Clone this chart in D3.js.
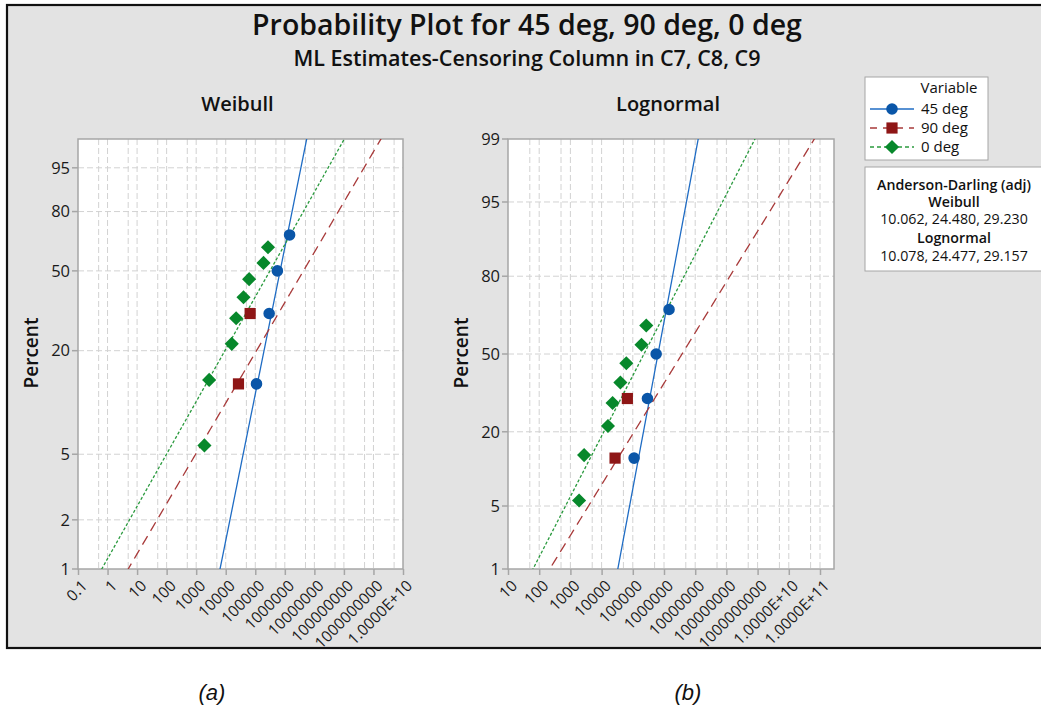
<!DOCTYPE html>
<html>
<head>
<meta charset="utf-8">
<script src="https://cdn.jsdelivr.net/npm/d3@7"></script>
<style>
  body { margin: 0; background: #fff; }
  svg { display: block; font-family: "Open Sans", "Noto Sans", sans-serif; }
</style>
</head>
<body>
<svg id="chart" width="1041" height="712"></svg>
<script>
// ---- data ----
const seriesNames = ['45 deg', '90 deg', '0 deg'];
const seriesColors = ['#0a56a8', '#8e1616', '#07882b'];
const lineColors = ['#1f6cc4', '#a83a3a', '#2a9a3e'];

const times45 = [1.1e5, 2.95e5, 5.6e5, 1.45e6];
const pct45 = [13.0, 31.5, 50.0, 68.5];
const times90 = [2.7e4, 6.7e4];
const pct90 = [13.0, 31.5];
const times0 = [1900, 2750, 1.6e4, 2.25e4, 4.0e4, 6.2e4, 1.9e5, 2.7e5];
const pct0 = [5.65, 13.7, 21.8, 29.8, 37.9, 46.0, 54.0, 62.1];

// fitted distributions (ML estimates)
const weibullShape = [0.904, 0.310, 0.323];
const weibullScale = [1.04e6, 1.39e7, 9.75e5];
const lognormLoc10 = [5.808, 6.578, 5.358];
const lognormScale10 = [0.554, 1.823, 1.529];

const weibullXTicks = [0.1, 1, 10, 100, 1e3, 1e4, 1e5, 1e6, 1e7, 1e8, 1e9, 1e10];
const weibullXLabels = ['0.1', '1', '10', '100', '1000', '10000', '100000', '1000000',
  '10000000', '100000000', '1000000000', '1.0000E+10'];
const weibullYTicks = [1, 2, 5, 20, 50, 80, 95];

const lognormXTicks = [10, 100, 1e3, 1e4, 1e5, 1e6, 1e7, 1e8, 1e9, 1e10, 1e11];
const lognormXLabels = ['10', '100', '1000', '10000', '100000', '1000000', '10000000',
  '100000000', '1000000000', '1.0000E+10', '1.0000E+11'];
const lognormYTicks = [1, 5, 20, 50, 80, 95, 99];

const adWeibull = '10.062, 24.480, 29.230';
const adLognormal = '10.078, 24.477, 29.157';

// ---- helpers ----
function weib(p) { return Math.log(-Math.log(1 - p)); }

// inverse standard normal CDF (Acklam)
function probit(p) {
  const a = [-39.69683028665376, 220.9460984245205, -275.9285104469687, 138.3577518672690, -30.66479806614716, 2.506628277459239];
  const b = [-54.47609879822406, 161.5858368580409, -155.6989798598866, 66.80131188771972, -13.28068155288572];
  const c = [-0.007784894002430293, -0.3223964580411365, -2.400758277161838, -2.549732539343734, 4.374664141464968, 2.938163982698783];
  const d = [0.007784695709041462, 0.3224671290700398, 2.445134137142996, 3.754408661907416];
  const pl = 0.02425;
  let q, r;
  if (p < pl) {
    q = Math.sqrt(-2 * Math.log(p));
    return (((((c[0]*q+c[1])*q+c[2])*q+c[3])*q+c[4])*q+c[5]) / ((((d[0]*q+d[1])*q+d[2])*q+d[3])*q+1);
  } else if (p <= 1 - pl) {
    q = p - 0.5; r = q * q;
    return (((((a[0]*r+a[1])*r+a[2])*r+a[3])*r+a[4])*r+a[5])*q / (((((b[0]*r+b[1])*r+b[2])*r+b[3])*r+b[4])*r+1);
  }
  q = Math.sqrt(-2 * Math.log(1 - p));
  return -(((((c[0]*q+c[1])*q+c[2])*q+c[3])*q+c[4])*q+c[5]) / ((((d[0]*q+d[1])*q+d[2])*q+d[3])*q+1);
}

const svg = d3.select('#chart');
const W = 1041, H = 712;

// outer frame
svg.append('rect').attr('x', 7).attr('y', 5).attr('width', W + 10).attr('height', 643)
  .attr('fill', '#e3e3e3').attr('stroke', '#111').attr('stroke-width', 2.2);

svg.append('text').attr('x', 527).attr('y', 35).attr('text-anchor', 'middle')
  .attr('font-size', 28.5).attr('font-weight', 600).attr('fill', '#111')
  .text('Probability Plot for 45 deg, 90 deg, 0 deg');
svg.append('text').attr('x', 527).attr('y', 66).attr('text-anchor', 'middle')
  .attr('font-size', 21.5).attr('font-weight', 600).attr('fill', '#111')
  .text('ML Estimates-Censoring Column in C7, C8, C9');

const series = [
  {name: seriesNames[0], t: times45, p: pct45, color: seriesColors[0], line: lineColors[0], dash: null, shape: 'circle'},
  {name: seriesNames[1], t: times90, p: pct90, color: seriesColors[1], line: lineColors[1], dash: '10 6', shape: 'square'},
  {name: seriesNames[2], t: times0, p: pct0, color: seriesColors[2], line: lineColors[2], dash: '3 2', shape: 'diamond'}
];

const panels = [
  {
    id: 'w', title: 'Weibull', left: 78, right: 403, top: 139, bottom: 569,
    xDomain: [0.1, 1e10], xRange: [78, 403], xTicks: weibullXTicks, xLabels: weibullXLabels,
    trans: weib, yTop: 0.989, yTicks: weibullYTicks, ylabX: 32,
    fitX: (i, p) => weibullScale[i] * Math.pow(-Math.log(1 - p), 1 / weibullShape[i])
  },
  {
    id: 'l', title: 'Lognormal', left: 508, right: 834, top: 139, bottom: 569,
    xDomain: [10, 1e11], xRange: [508, 820], xTicks: lognormXTicks, xLabels: lognormXLabels,
    trans: probit, yTop: 0.99, yTicks: lognormYTicks, ylabX: 462,
    fitX: (i, p) => Math.pow(10, lognormLoc10[i] + lognormScale10[i] * probit(p))
  }
];

const symbolFor = {
  circle: d3.symbol(d3.symbolCircle, 105),
  square: d3.symbol(d3.symbolSquare, 125),
  diamond: d3.symbol(d3.symbolSquare, 100)
};
const symbolRot = {circle: 0, square: 0, diamond: 45};

panels.forEach(P => {
  const x = d3.scaleLog().domain(P.xDomain).range(P.xRange);
  const y = d3.scaleLinear().domain([P.trans(0.01), P.trans(P.yTop)]).range([P.bottom, P.top]);
  const yp = pc => y(P.trans(pc / 100));
  const g = svg.append('g');

  g.append('rect').attr('x', P.left).attr('y', P.top)
    .attr('width', P.right - P.left).attr('height', P.bottom - P.top).attr('fill', '#fff');

  // vertical grid: decades and the 5x lines before them
  const vlines = [];
  P.xTicks.forEach(t => { vlines.push(t); vlines.push(t * 5); });
  vlines.filter(v => x(v) > P.left + 1 && x(v) < P.right - 1).forEach(v => {
    g.append('line').attr('x1', x(v)).attr('x2', x(v)).attr('y1', P.top).attr('y2', P.bottom)
      .attr('stroke', '#d2d2d2').attr('stroke-width', 1).attr('stroke-dasharray', '6 3');
  });
  P.yTicks.filter(t => yp(t) > P.top + 1 && yp(t) < P.bottom - 1).forEach(t => {
    g.append('line').attr('x1', P.left).attr('x2', P.right).attr('y1', yp(t)).attr('y2', yp(t))
      .attr('stroke', '#d2d2d2').attr('stroke-width', 1).attr('stroke-dasharray', '6 3');
  });

  g.append('rect').attr('x', P.left).attr('y', P.top)
    .attr('width', P.right - P.left).attr('height', P.bottom - P.top)
    .attr('fill', 'none').attr('stroke', '#a6a6a6').attr('stroke-width', 1.5);

  // axes
  const xAxis = d3.axisBottom(x).tickValues(P.xTicks).tickSize(6)
    .tickFormat((d, i) => P.xLabels[i]);
  const xg = g.append('g').attr('transform', `translate(0,${P.bottom})`).call(xAxis);
  xg.select('.domain').remove();
  xg.selectAll('.tick line').attr('stroke', '#a6a6a6').attr('stroke-width', 1.5);
  xg.selectAll('.tick text').attr('font-size', 15.5).attr('fill', '#1a1a1a')
    .attr('font-family', '"Open Sans", sans-serif')
    .attr('text-anchor', 'end').attr('dx', '-0.1em').attr('dy', '0.55em')
    .attr('transform', 'rotate(-45) translate(-4,2)');

  const yg = g.append('g').attr('transform', `translate(${P.left},0)`);
  P.yTicks.forEach(t => {
    yg.append('line').attr('x1', -6).attr('x2', 0).attr('y1', yp(t)).attr('y2', yp(t))
      .attr('stroke', '#a6a6a6').attr('stroke-width', 1.5);
    yg.append('text').attr('x', -8).attr('y', yp(t)).attr('dy', '0.35em')
      .attr('text-anchor', 'end').attr('font-size', 16.5).attr('fill', '#1a1a1a').text(t);
  });

  g.append('text').attr('x', (P.left + P.right) / 2 - 3).attr('y', 111).attr('text-anchor', 'middle')
    .attr('font-size', 20).attr('font-weight', 600).attr('fill', '#111').text(P.title);
  g.append('text').attr('transform', `translate(${P.ylabX + 6},353) rotate(-90)`)
    .attr('text-anchor', 'middle').attr('font-size', 19).attr('font-weight', 600)
    .attr('fill', '#111').text('Percent');

  // fitted lines
  const clipId = 'clip-' + P.id;
  svg.append('clipPath').attr('id', clipId).append('rect')
    .attr('x', P.left).attr('y', P.top).attr('width', P.right - P.left).attr('height', P.bottom - P.top);
  const probs = d3.range(0.002, 0.9995, 0.002);
  const line = d3.line().x(d => x(d[0])).y(d => y(P.trans(d[1])));
  series.forEach((s, i) => {
    g.append('path').attr('clip-path', `url(#${clipId})`)
      .attr('d', line(probs.map(p => [P.fitX(i, p), p])))
      .attr('fill', 'none').attr('stroke', s.line).attr('stroke-width', 1.3)
      .attr('stroke-dasharray', s.dash);
  });

  // points
  series.forEach(s => {
    g.selectAll(null).data(s.t.map((t, k) => [t, s.p[k]])).enter().append('path')
      .attr('d', symbolFor[s.shape])
      .attr('transform', d => `translate(${x(d[0])},${yp(d[1])}) rotate(${symbolRot[s.shape]})`)
      .attr('fill', s.color);
  });
});

// legend
const lg = svg.append('g');
lg.append('rect').attr('x', 865).attr('y', 77).attr('width', 123).attr('height', 83)
  .attr('fill', '#fff').attr('stroke', '#a6a6a6').attr('stroke-width', 1);
lg.append('text').attr('x', 949).attr('y', 88).attr('dy', '0.35em').attr('text-anchor', 'middle')
  .attr('font-size', 15).attr('font-weight', 500).attr('fill', '#111').text('Variable');
series.forEach((s, i) => {
  const yy = [109, 128, 147][i];
  lg.append('line').attr('x1', 870).attr('x2', 914).attr('y1', yy).attr('y2', yy)
    .attr('stroke', s.line).attr('stroke-width', 1.3).attr('stroke-dasharray', s.dash ? (i === 1 ? '7 6' : '4 3') : null);
  lg.append('path').attr('d', symbolFor[s.shape])
    .attr('transform', `translate(892,${yy}) rotate(${symbolRot[s.shape]})`).attr('fill', s.color);
  lg.append('text').attr('x', 921).attr('y', yy).attr('dy', '0.35em')
    .attr('font-size', 15).attr('fill', '#111').text(s.name);
});

const ad = svg.append('g');
ad.append('rect').attr('x', 865).attr('y', 167).attr('width', 200).attr('height', 104)
  .attr('fill', '#fff').attr('stroke', '#a6a6a6').attr('stroke-width', 1);
const adLines = [
  ['Anderson-Darling (adj)', 600], ['Weibull', 600], [adWeibull, 400],
  ['Lognormal', 600], [adLognormal, 400]
];
adLines.forEach((l, i) => {
  ad.append('text').attr('x', 954).attr('y', [185, 202, 219, 238, 256][i]).attr('dy', '0.35em')
    .attr('text-anchor', 'middle').attr('font-size', 14.2).attr('font-weight', l[1])
    .attr('fill', '#111').text(l[0]);
});

// captions
svg.append('text').attr('x', 212).attr('y', 700).attr('text-anchor', 'middle')
  .attr('font-family', '"Liberation Sans", Arial, sans-serif').attr('font-style', 'italic')
  .attr('font-size', 22).attr('fill', '#111').text('(a)');
svg.append('text').attr('x', 688).attr('y', 700).attr('text-anchor', 'middle')
  .attr('font-family', '"Liberation Sans", Arial, sans-serif').attr('font-style', 'italic')
  .attr('font-size', 22).attr('fill', '#111').text('(b)');
</script>
</body>
</html>
